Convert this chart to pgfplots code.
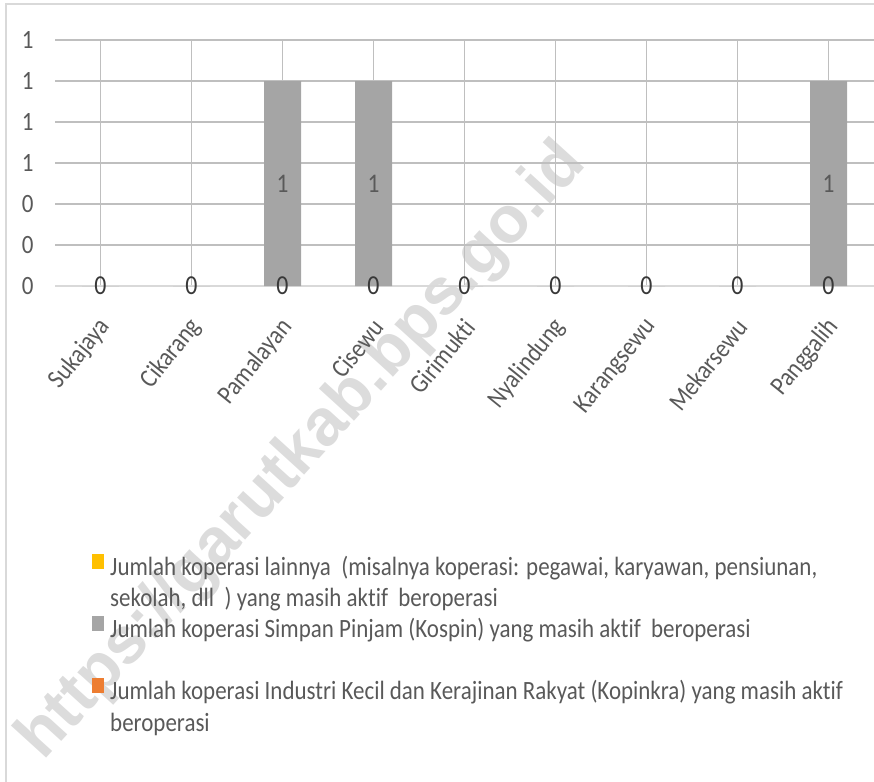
\documentclass[border=0pt]{standalone}
\usepackage{pgfplots}
\pgfplotsset{compat=1.18}
\usepackage{fontspec}
\setmainfont{Carlito}[FakeStretch=0.87, Ligatures=NoCommon]
\newfontfamily\wmfont{Liberation Sans}
\definecolor{txt}{HTML}{595959}
\definecolor{grid}{HTML}{D9D9D9}
\definecolor{kospin}{HTML}{A5A5A5}
\definecolor{kopinkra}{HTML}{ED7D31}
\definecolor{lain}{HTML}{FFC000}
\definecolor{wm}{HTML}{DCDCDC}
\begin{document}
\begin{tikzpicture}
\path[use as bounding box] (-55bp,-496bp) rectangle (819bp,286bp);
\draw[grid, line width=1.5bp] (-49bp,-500bp) -- (-49bp,282bp) -- (825bp,282bp);
\node[wm, rotate=47.7, font=\wmfont\bfseries\fontsize{66}{66}\selectfont] at (248bp,-166bp) {https://garutkab.bps.go.id};
\begin{axis}[
  scale only axis,
  width=819bp, height=246bp,
  xmin=-0.5, xmax=8.5, ymin=0, ymax=1.2,
  axis x line*=bottom, axis y line*=left,
  y axis line style={draw=none},
  x axis line style={grid, line width=1.5bp},
  major tick length=0pt,
  ymajorgrids, grid style={grid, line width=1.5bp},
  ytick={0,0.2,0.4,0.6,0.8,1.0,1.2},
  yticklabels={0,0,0,1,1,1,1},
  yticklabel style={font=\fontsize{26.5}{26.5}\selectfont, text=txt, anchor=east, xshift=-18bp},
  xtick={0,...,8},
  xticklabels={Sukajaya,Cikarang,Pamalayan,Cisewu,Girimukti,Nyalindung,Karangsewu,Mekarsewu,Panggalih},
  xticklabel style={font=\fontsize{26.5}{26.5}\selectfont, text=txt, xshift=7bp, yshift=-34bp, rotate=51, anchor=east},
  /pgf/bar shift=0pt,
  bar width=37bp,
]
% Kopinkra (orange), all zero
\addplot[ybar, draw=none, fill=none] coordinates {(0,0) (1,0) (2,0) (3,0) (4,0) (5,0) (6,0) (7,0) (8,0)};
% Kospin (gray)
\addplot[ybar, draw=none, fill=kospin] coordinates {(0,0) (1,0) (2,1) (3,1) (4,0) (5,0) (6,0) (7,0) (8,1)};
% Lainnya (yellow), all zero
\addplot[ybar, draw=none, fill=none] coordinates {(0,0) (1,0) (2,0) (3,0) (4,0) (5,0) (6,0) (7,0) (8,0)};
% data labels
\addplot[draw=none, mark=none, nodes near coords, point meta=explicit symbolic,
  every node near coord/.append style={anchor=center, font=\fontsize{27.5}{27.5}\selectfont, text=black!78}]
  table[meta=lab] {
x y lab
0 0 0
1 0 0
2 0 0
3 0 0
4 0 0
5 0 0
6 0 0
7 0 0
8 0 0
};
\addplot[draw=none, mark=none, nodes near coords, point meta=explicit symbolic,
  every node near coord/.append style={anchor=center, font=\fontsize{27}{27}\selectfont, text=txt}]
  table[meta=lab] {
x y lab
2 0.5 1
3 0.5 1
8 0.5 1
};
\end{axis}
% legend
\fill[lain] (37bp,-283bp) rectangle (49bp,-268bp);
\fill[kospin] (37bp,-345bp) rectangle (49bp,-330bp);
\fill[kopinkra] (37bp,-407bp) rectangle (49bp,-392bp);
\begin{scope}[every node/.style={anchor=base west, inner sep=0pt, text=txt, font=\fontsize{26.5}{26.5}\selectfont}]
\node at (55bp,-289bp) {Jumlah koperasi lainnya\ \ (misalnya koperasi: pegawai, karyawan, pensiunan,};
\node at (55bp,-320bp) {sekolah, dll\ \ ) yang masih aktif\ \ beroperasi};
\node at (55bp,-351bp) {Jumlah koperasi Simpan Pinjam (Kospin) yang masih aktif\ \ beroperasi};
\node at (55bp,-413bp) {Jumlah koperasi Industri Kecil dan Kerajinan Rakyat (Kopinkra) yang masih aktif};
\node at (55bp,-445bp) {beroperasi};
\end{scope}
\end{tikzpicture}
\end{document}
